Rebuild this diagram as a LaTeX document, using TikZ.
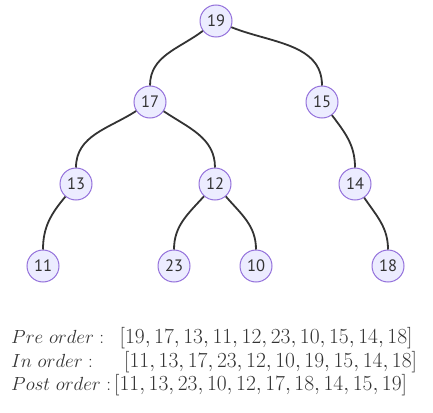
\documentclass[tikz,border=0pt]{standalone}
\usepackage{fix-cm}
\usepackage{fontspec}
\newfontfamily\vertfont{PT Sans}
\definecolor{vfill}{HTML}{ECECFF}
\definecolor{vline}{HTML}{9370DB}
\definecolor{ink}{HTML}{333333}
\tikzset{vert/.style = {draw = vline, fill = vfill, circle, line width = 1pt, inner sep = 0, minimum size = 32pt, text = ink, font = \vertfont\fontsize{16.5}{16.5}\selectfont}}
\tikzset{link/.style = {draw = ink, line width = 1.8pt}}
\tikzset{lbl/.style = {anchor = base west, inner sep = 0, text = ink, font = \fontsize{19}{24}\selectfont}}
\tikzset{seq/.style = {lbl, font = \fontsize{21.5}{24}\selectfont}}

\begin{document}
\begin{tikzpicture}[x = 1pt, y = -1pt]
	\useasboundingbox (0,0) rectangle (433,412);
	\node [vert] (n19) at (216,21) {19};
	\node [vert] (n17) at (150,102) {17};
	\node [vert] (n15) at (322,102) {15};
	\node [vert] (n13) at (76,184) {13};
	\node [vert] (n12) at (215,184) {12};
	\node [vert] (n14) at (355,184) {14};
	\node [vert] (n11) at (43,266) {11};
	\node [vert] (n23) at (174,266) {23};
	\node [vert] (n10) at (256,266) {10};
	\node [vert] (n18) at (388,266) {18};
	\draw [link] (n19) to[out=217, in=90] (n17);
	\draw [link] (n19) to[out=-22, in=90] (n15);
	\draw [link] (n17) to[out=213, in=90] (n13);
	\draw [link] (n17) to[out=-34, in=90] (n12);
	\draw [link] (n15) to[out=-53, in=90] (n14);
	\draw [link] (n13) to[out=230, in=90] (n11);
	\draw [link] (n12) to[out=228, in=90] (n23);
	\draw [link] (n12) to[out=-49, in=90] (n10);
	\draw [link] (n14) to[out=-56, in=90] (n18);
	\node [lbl] (pre) at (11,343) {$Pre\ order:$};
	\node [seq] (prelist) at (119.5,343) {$[19, 17, 13, 11, 12, 23, 10, 15, 14, 18]$};
	\node [lbl] (inorder) at (11,367) {$In\ order:$};
	\node [seq] (inlist) at (124,367) {$[11, 13, 17, 23, 12, 10, 19, 15, 14, 18]$};
	\node [lbl] (post) at (11,390) {$Post\ order:$};
	\node [seq] (postlist) at (114,390) {$[11, 13, 23, 10, 12, 17, 18, 14, 15, 19]$};
\end{tikzpicture}
\end{document}
